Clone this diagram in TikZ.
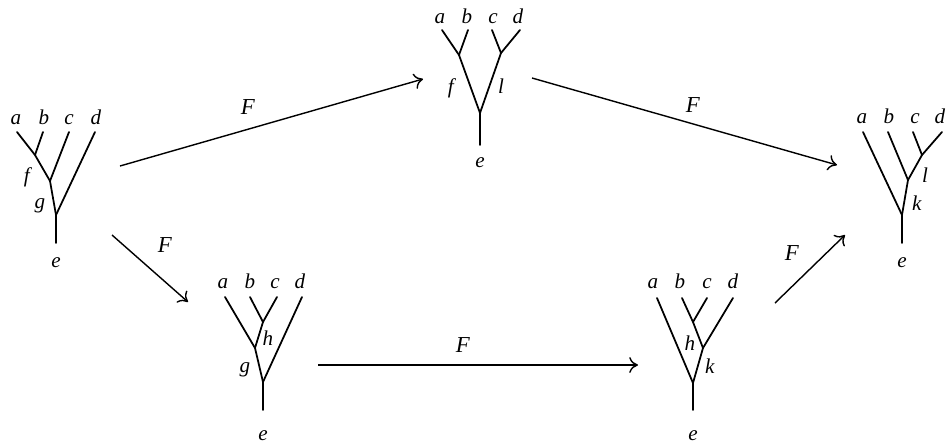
\documentclass[tikz,border=0pt]{standalone}
\usepackage{fontspec}
\setmainfont{Liberation Serif}
\usetikzlibrary{arrows.meta}
\newcommand{\lab}[1]{\textit{#1}}

\begin{document}
\begin{tikzpicture}[
    x=0.02cm, y=-0.02cm,
    branch/.style={line width=1pt, line cap=round},
    leaf/.style={anchor=base, inner sep=0pt, font=\fontsize{12}{12}\selectfont},
    vertex/.style={anchor=base, inner sep=0pt, font=\fontsize{12}{12}\selectfont},
    map/.style={line width=0.8pt, -{To[length=5pt,width=9pt]}},
    maplabel/.style={inner sep=0pt, font=\fontsize{13}{13}\selectfont}
]
    \useasboundingbox (0,0) rectangle (948,444);

    % --- 1) left tree: ((ab)c)d ---
    \coordinate (t1a) at (17,132);  \coordinate (t1b) at (43,132);
    \coordinate (t1c) at (69,132);  \coordinate (t1d) at (95,132);
    \coordinate (t1ab) at (35,155); \coordinate (t1abc) at (50,181);
    \coordinate (t1r) at (56,215);  \coordinate (t1e) at (56,243);
    \draw[branch] (t1a) -- (t1ab) -- (t1abc) -- (t1r) -- (t1e);
    \draw[branch] (t1b) -- (t1ab);
    \draw[branch] (t1c) -- (t1abc);
    \draw[branch] (t1d) -- (t1r);
    \node[leaf] (l1a) at (16,124) {\lab{a}};
    \node[leaf] (l1b) at (44,124) {\lab{b}};
    \node[leaf] (l1c) at (69,124) {\lab{c}};
    \node[leaf] (l1d) at (96,124) {\lab{d}};
    \node[leaf] (l1e) at (56,267) {\lab{e}};
    \node[vertex] (v1f) at (28,182) {\lab{f}};
    \node[vertex] (v1g) at (40,208) {\lab{g}};

    % --- 2) top tree: (ab)(cd) ---
    \coordinate (t2a) at (442,30);  \coordinate (t2b) at (468,30);
    \coordinate (t2c) at (492,30);  \coordinate (t2d) at (520,30);
    \coordinate (t2ab) at (459,55); \coordinate (t2cd) at (501,53);
    \coordinate (t2r) at (480,113); \coordinate (t2e) at (480,145);
    \draw[branch] (t2a) -- (t2ab) -- (t2r) -- (t2e);
    \draw[branch] (t2b) -- (t2ab);
    \draw[branch] (t2c) -- (t2cd) -- (t2r);
    \draw[branch] (t2d) -- (t2cd);
    \node[leaf] (l2a) at (440,23) {\lab{a}};
    \node[leaf] (l2b) at (467,23) {\lab{b}};
    \node[leaf] (l2c) at (493,23) {\lab{c}};
    \node[leaf] (l2d) at (518,23) {\lab{d}};
    \node[leaf] (l2e) at (480,167) {\lab{e}};
    \node[vertex] (v2f) at (452,93) {\lab{f}};
    \node[vertex] (v2l) at (501,93) {\lab{l}};

    % --- 3) bottom-left tree: (a(bc))d ---
    \coordinate (t3a) at (225,297); \coordinate (t3b) at (250,297);
    \coordinate (t3c) at (277,297); \coordinate (t3d) at (302,297);
    \coordinate (t3bc) at (263,322); \coordinate (t3abc) at (255,348);
    \coordinate (t3r) at (263,382); \coordinate (t3e) at (263,410);
    \draw[branch] (t3a) -- (t3abc) -- (t3r) -- (t3e);
    \draw[branch] (t3b) -- (t3bc) -- (t3abc);
    \draw[branch] (t3c) -- (t3bc);
    \draw[branch] (t3d) -- (t3r);
    \node[leaf] (l3a) at (223,288) {\lab{a}};
    \node[leaf] (l3b) at (250,288) {\lab{b}};
    \node[leaf] (l3c) at (275,288) {\lab{c}};
    \node[leaf] (l3d) at (300,288) {\lab{d}};
    \node[leaf] (l3e) at (263,440) {\lab{e}};
    \node[vertex] (v3h) at (268,345) {\lab{h}};
    \node[vertex] (v3g) at (245,372) {\lab{g}};

    % --- 4) bottom-right tree: a((bc)d) ---
    \coordinate (t4a) at (657,298); \coordinate (t4b) at (682,298);
    \coordinate (t4c) at (707,298); \coordinate (t4d) at (733,298);
    \coordinate (t4bc) at (693,322); \coordinate (t4bcd) at (703,348);
    \coordinate (t4r) at (693,383); \coordinate (t4e) at (693,410);
    \draw[branch] (t4a) -- (t4r) -- (t4e);
    \draw[branch] (t4b) -- (t4bc) -- (t4bcd) -- (t4r);
    \draw[branch] (t4c) -- (t4bc);
    \draw[branch] (t4d) -- (t4bcd);
    \node[leaf] (l4a) at (653,288) {\lab{a}};
    \node[leaf] (l4b) at (680,288) {\lab{b}};
    \node[leaf] (l4c) at (707,288) {\lab{c}};
    \node[leaf] (l4d) at (733,288) {\lab{d}};
    \node[leaf] (l4e) at (693,440) {\lab{e}};
    \node[vertex] (v4h) at (690,350) {\lab{h}};
    \node[vertex] (v4k) at (710,373) {\lab{k}};

    % --- 5) right tree: a(b(cd)) ---
    \coordinate (t5a) at (863,132); \coordinate (t5b) at (888,132);
    \coordinate (t5c) at (913,132); \coordinate (t5d) at (942,132);
    \coordinate (t5cd) at (922,155); \coordinate (t5bcd) at (908,180);
    \coordinate (t5r) at (902,215); \coordinate (t5e) at (902,243);
    \draw[branch] (t5a) -- (t5r) -- (t5e);
    \draw[branch] (t5b) -- (t5bcd) -- (t5r);
    \draw[branch] (t5c) -- (t5cd) -- (t5bcd);
    \draw[branch] (t5d) -- (t5cd);
    \node[leaf] (l5a) at (862,123) {\lab{a}};
    \node[leaf] (l5b) at (889,123) {\lab{b}};
    \node[leaf] (l5c) at (915,123) {\lab{c}};
    \node[leaf] (l5d) at (940,123) {\lab{d}};
    \node[leaf] (l5e) at (902,267) {\lab{e}};
    \node[vertex] (v5l) at (925,182) {\lab{l}};
    \node[vertex] (v5k) at (917,210) {\lab{k}};

    % --- maps F between the trees ---
    \coordinate (m1s) at (120,166); \coordinate (m1t) at (423,79);
    \coordinate (m2s) at (532,78);  \coordinate (m2t) at (837,165);
    \coordinate (m3s) at (112,235); \coordinate (m3t) at (188,302);
    \coordinate (m4s) at (318,365); \coordinate (m4t) at (638,365);
    \coordinate (m5s) at (775,303); \coordinate (m5t) at (845,235);
    \draw[map] (m1s) -- (m1t);
    \draw[map] (m2s) -- (m2t);
    \draw[map] (m3s) -- (m3t);
    \draw[map] (m4s) -- (m4t);
    \draw[map] (m5s) -- (m5t);
    \node[maplabel] (F1) at (248,107) {\lab{F}};
    \node[maplabel] (F2) at (693,105) {\lab{F}};
    \node[maplabel] (F3) at (165,245) {\lab{F}};
    \node[maplabel] (F4) at (463,345) {\lab{F}};
    \node[maplabel] (F5) at (792,253) {\lab{F}};

\end{tikzpicture}
\end{document}
